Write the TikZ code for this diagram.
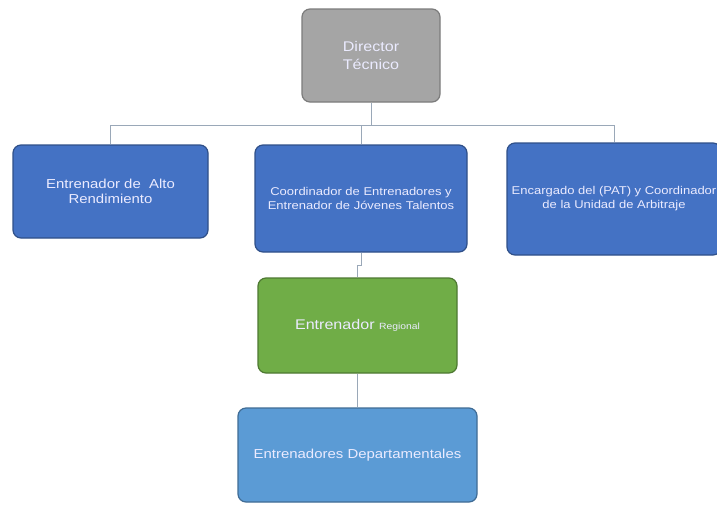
\documentclass[tikz,border=0pt]{standalone}
\usepackage{fontspec}
\setmainfont[FakeStretch=1.15]{Liberation Sans}
\usetikzlibrary{calc}
\definecolor{dirgray}{HTML}{A5A5A5}
\definecolor{boxblue}{HTML}{4472C4}
\definecolor{boxgreen}{HTML}{70AD47}
\definecolor{boxlight}{HTML}{5B9BD5}
\definecolor{linecol}{HTML}{9AA8B8}
\tikzset{
  orgbox/.style={rectangle, rounded corners=8pt, line width=1.2pt, align=center,
    text=white!92!blue, inner sep=2pt, font=\fontsize{11.3}{14}\selectfont},
  conn/.style={draw=linecol, line width=0.9pt},
}
\begin{document}
\begin{tikzpicture}[x=1pt,y=-1pt]
\fill[white] (0,0) rectangle (717,504);
\clip (0,0) rectangle (717,504);
\node[orgbox, fill=dirgray, draw=dirgray!75!black, minimum width=138pt, minimum height=93pt,
  font=\fontsize{14}{18}\selectfont] (dir) at (371,55.5) {Director\\Técnico};
\node[orgbox, fill=boxblue, draw=boxblue!70!black, minimum width=195pt, minimum height=93pt,
  font=\fontsize{13}{15}\selectfont] (b1) at (110.5,191.5) {Entrenador de\ \ Alto\\Rendimiento};
\node[orgbox, fill=boxblue, draw=boxblue!70!black, minimum width=212pt, minimum height=107pt] (b2) at (361,198.5)
  {Coordinador de Entrenadores y\\Entrenador de Jóvenes Talentos};
\node[orgbox, fill=boxblue, draw=boxblue!70!black, minimum width=214pt, minimum height=112pt] (b3) at (614,199)
  {Encargado del (PAT) y Coordinador\\de la Unidad de Arbitraje};
\node[orgbox, fill=boxgreen, draw=boxgreen!70!black, minimum width=199pt, minimum height=95pt,
  font=\fontsize{14}{16}\selectfont] (g) at (357.5,325.5) {Entrenador {\fontsize{9}{11}\selectfont Regional}};
\node[orgbox, fill=boxlight, draw=boxlight!70!black, minimum width=239pt, minimum height=94pt,
  font=\fontsize{13}{16}\selectfont] (d) at (357.5,455) {Entrenadores Departamentales};
\coordinate (bus) at (0,125);
\draw[conn] (dir.south) -- (dir.south |- bus);
\draw[conn] (b1.north) -- (b1.north |- bus) -- (b3.north |- bus) -- (b3.north);
\draw[conn] (b2.north) -- (b2.north |- bus);
\coordinate (mid) at ($(b2.south)!0.5!(g.north)$);
\draw[conn] (b2.south) -- (b2.south |- mid) -- (g.north |- mid) -- (g.north);
\draw[conn] (g.south) -- (d.north);
\end{tikzpicture}
\end{document}
